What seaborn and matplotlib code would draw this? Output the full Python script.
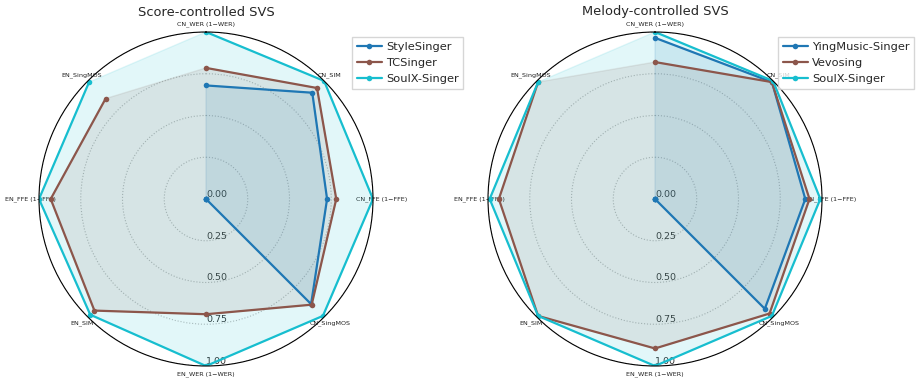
import numpy as np
import pandas as pd
import matplotlib
matplotlib.use("Agg")
import matplotlib.pyplot as plt
import seaborn as sns

categories = ["CN_WER (1−WER)", "CN_SIM", "CN_FFE (1−FFE)", "CN_SingMOS",
              "EN_WER (1−WER)", "EN_SIM", "EN_FFE (1−FFE)", "EN_SingMOS"]

score_models = ["StyleSinger", "TCSinger", "SoulX-Singer"]
stylesinger = [0.68, 0.90, 0.725, 0.89, 0.0, 0.0, 0.0, 0.0]
tcsinger = [0.785, 0.94, 0.78, 0.895, 0.69, 0.945, 0.93, 0.85]
soulx_score = [1.0, 1.0, 1.0, 0.99, 1.0, 0.98, 1.0, 0.99]

melody_models = ["YingMusic-Singer", "Vevosing", "SoulX-Singer"]
yingmusic = [0.965, 0.99, 0.90, 0.93, 0.0, 0.0, 0.0, 0.0]
vevosing = [0.82, 0.99, 0.925, 0.97, 0.895, 0.99, 0.935, 0.99]
soulx_melody = [1.0, 1.0, 0.99, 0.99, 1.0, 0.99, 0.99, 0.99]

rticks = [0.0, 0.25, 0.5, 0.75, 1.0]
rtick_labels = ["0.00", "0.25", "0.50", "0.75", "1.00"]

sns.set_theme(style="white")
plt.rcParams["font.family"] = ["DejaVu Sans"]

colors = ["#1f77b4", "#8c564b", "#17becf"]

fig = plt.figure(figsize=(9.16, 3.84), dpi=100)
W, H = 916, 384
ax1 = fig.add_axes([39 / W, 1 - 366 / H, 334 / W, 334 / H], projection="polar")
ax2 = fig.add_axes([488 / W, 1 - 366 / H, 334 / W, 334 / H], projection="polar")

n = len(categories)
angles = np.linspace(0, 2 * np.pi, n, endpoint=False)


def radar(ax, title, models, series, legend_pos, title_x):
    ax.set_theta_zero_location("N")
    ax.set_theta_direction(-1)
    for name, vals, c in zip(models, series, colors):
        a = np.concatenate([angles, angles[:1]])
        v = np.concatenate([vals, vals[:1]])
        df = pd.DataFrame({"angle": a, "value": v})
        sns.lineplot(data=df, x="angle", y="value", sort=False, ax=ax, color=c,
                     linewidth=1.6, marker="o", markersize=4, markeredgewidth=0,
                     label=name)
        ax.fill(a, v, color=c, alpha=0.12)
    ax.set_ylim(0, 1)
    ax.set_xticks(angles)
    ax.set_xticklabels(categories, fontsize=4.6, color="#222222")
    ax.tick_params(axis="x", pad=-7)
    ax.set_yticks(rticks)
    ax.set_yticklabels(rtick_labels, fontsize=6.8, color="#333333")
    ax.set_rlabel_position(180)
    ax.xaxis.grid(False)
    ax.yaxis.grid(True, linestyle=":", color="#bbbbbb", linewidth=0.8)
    ax.spines["polar"].set_color("black")
    ax.spines["polar"].set_linewidth(0.8)
    ax.set_xlabel("")
    ax.set_ylabel("")
    ax.set_facecolor("white")
    fig.text(title_x, 1 - 12 / H, title, fontsize=9.4, ha="center", va="center")
    ax.legend(loc="upper left", bbox_to_anchor=legend_pos,
              bbox_transform=fig.transFigure, fontsize=8.2,
              frameon=True, fancybox=False, edgecolor="#cccccc",
              handlelength=2.2, borderpad=0.4, labelspacing=0.55,
              borderaxespad=0.0, handletextpad=0.4)


radar(ax1, "Score-controlled SVS", score_models,
      [stylesinger, tcsinger, soulx_score], (352 / W, 1 - 37 / H), 206 / W)
radar(ax2, "Melody-controlled SVS", melody_models,
      [yingmusic, vevosing, soulx_melody], (778 / W, 1 - 37 / H), 655 / W)

fig.savefig("out.png", dpi=100, facecolor="white")
